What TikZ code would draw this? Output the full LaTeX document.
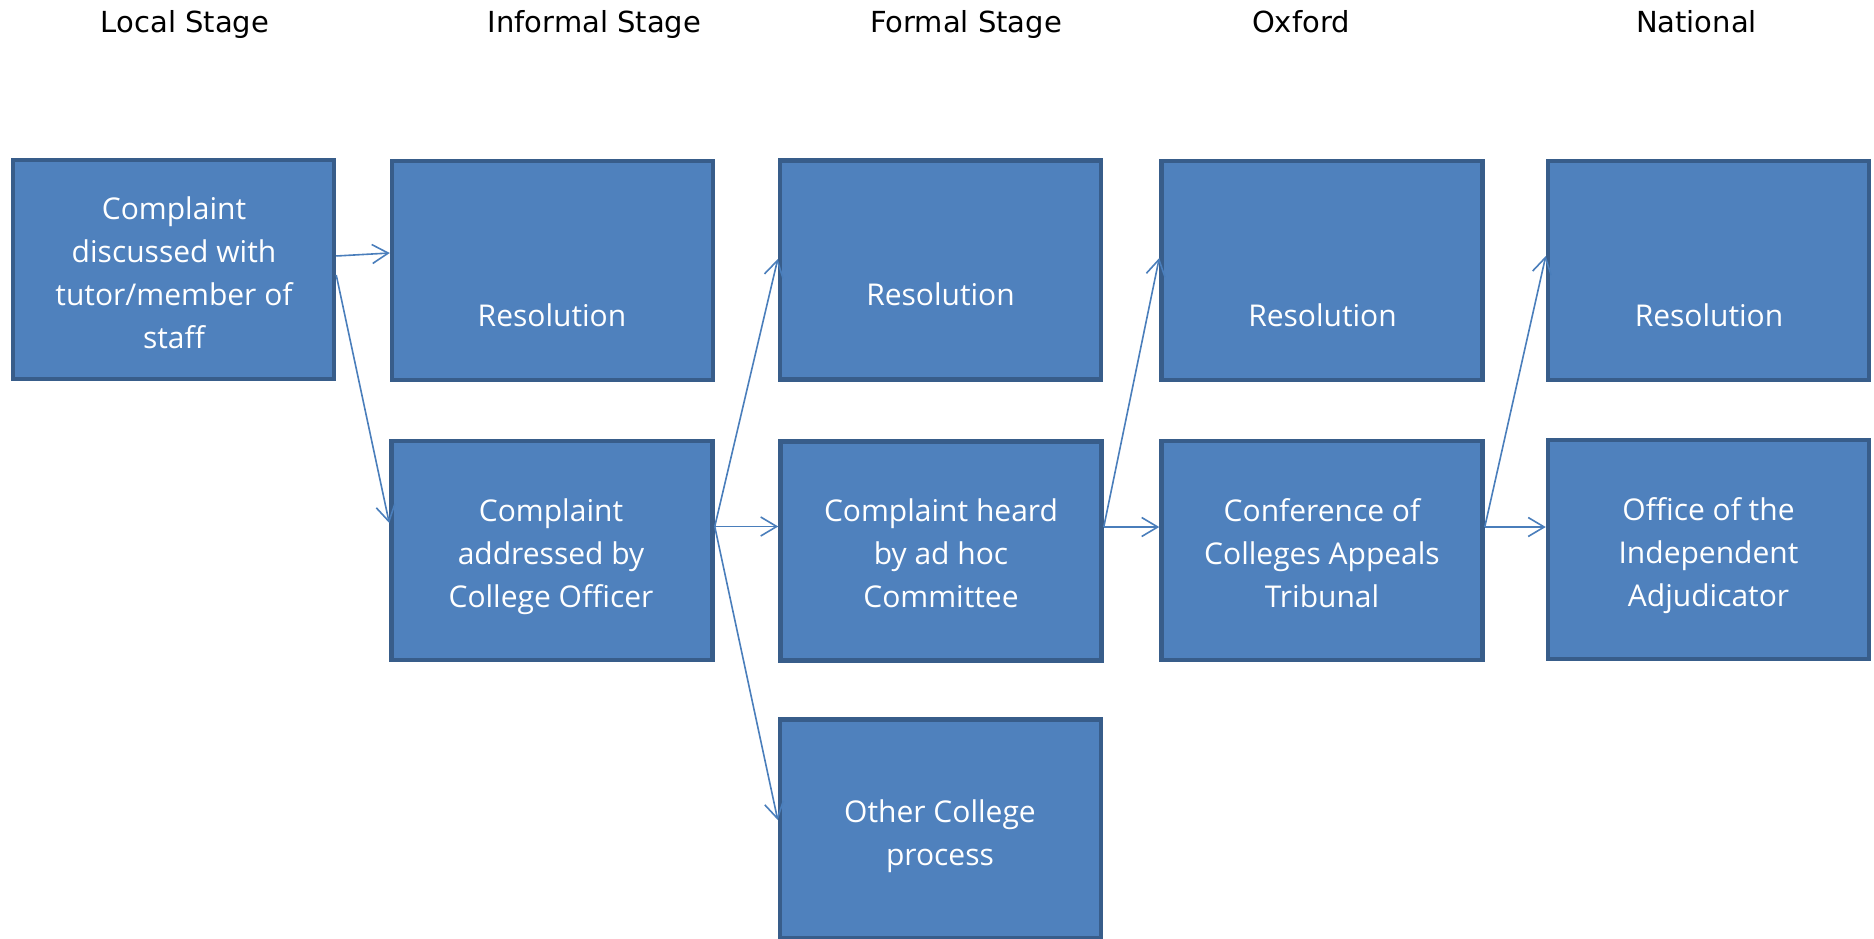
\documentclass[tikz,border=0pt]{standalone}
\usepackage{fontspec}
\setmainfont{Open Sans}
\newfontfamily\hdrfont{DejaVu Sans}
\usetikzlibrary{arrows.meta}
\definecolor{boxfill}{HTML}{4F81BD}
\definecolor{boxline}{HTML}{385D8A}
\definecolor{arrowcol}{HTML}{4A7EBB}
\begin{document}
\begin{tikzpicture}[x=1pt,y=-1pt,
  box/.style={draw=boxline, line width=4.5pt, fill=boxfill, inner sep=0pt,
    minimum width=321pt, minimum height=219pt},
  boxtext/.style={text=white, align=center, font=\fontsize{30}{43}\selectfont, inner sep=0pt},
  header/.style={font=\hdrfont\fontsize{29}{35}\selectfont, anchor=base, inner sep=0pt},
  conn/.style={draw=arrowcol, line width=1.6pt, -{Straight Barb[length=16pt,width=19pt]}}]
\useasboundingbox (0,0) rectangle (1874,939);

% headers
\node[header] (h1) at (185,33) {Local Stage};
\node[header] (h2) at (594.5,33) {Informal Stage};
\node[header] (h3) at (966,33) {Formal Stage};
\node[header] (h4) at (1301,33) {Oxford};
\node[header] (h5) at (1696.5,33) {National};

% boxes
\node[box] (b1)  at (173.5,269.5) {};
\node[box] (b2)  at (552.5,270.5) {};
\node[box] (b2b) at (552,550.5) {};
\node[box] (b3)  at (940.5,270) {};
\node[box] (b3b) at (941,551) {};
\node[box] (b3c) at (940.5,829) {};
\node[box] (b4)  at (1322,270.5) {};
\node[box] (b4b) at (1322,550.5) {};
\node[box] (b5)  at (1708.5,270.5) {};
\node[box] (b5b) at (1708.5,549.5) {};

% texts
\node[boxtext] (t1) at (174,273) {Complaint\\discussed with\\tutor/member of\\staff};
\node[boxtext, anchor=base] (t2) at (552,326) {Resolution};
\node[boxtext] (t2b) at (551,556.5) {Complaint\\addressed by\\College Officer};
\node[boxtext, anchor=base] (t3) at (940.5,305) {Resolution};
\node[boxtext] (t3b) at (941,553) {Complaint heard\\by ad hoc\\Committee};
\node[boxtext] (t3c) at (940,836.5) {Other College\\process};
\node[boxtext, anchor=base] (t4) at (1322.5,326) {Resolution};
\node[boxtext] (t4b) at (1322,553) {Conference of\\Colleges Appeals\\Tribunal};
\node[boxtext, anchor=base] (t5) at (1709,326) {Resolution};
\node[boxtext] (t5b) at (1708.5,555.5) {Office of the\\Independent\\Adjudicator};

% connectors
\draw[conn] ([yshift=13.5pt]b1.east) -- ([yshift=17.5pt]b2.west);
\draw[conn] ([yshift=-5.5pt]b1.east) -- ([yshift=27.5pt]b2b.west);
\draw[conn] ([yshift=24pt]b2b.east) -- ([yshift=11pt]b3.west);
\draw[conn] ([yshift=24pt]b2b.east) -- ([yshift=24.5pt]b3b.west);
\draw[conn] ([yshift=24pt]b2b.east) -- ([yshift=9pt]b3c.west);
\draw[conn] ([yshift=24pt]b3b.east) -- ([yshift=12.5pt]b4.west);
\draw[conn] ([yshift=24pt]b3b.east) -- ([yshift=23.5pt]b4b.west);
\draw[conn] ([yshift=23.5pt]b4b.east) -- ([yshift=14.5pt]b5.west);
\draw[conn] ([yshift=23.5pt]b4b.east) -- ([yshift=22.5pt]b5b.west);
\end{tikzpicture}
\end{document}
